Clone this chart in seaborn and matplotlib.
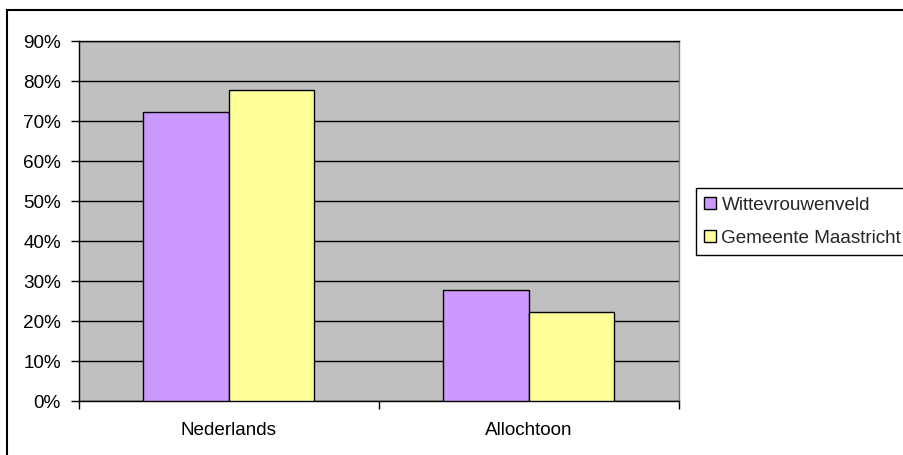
import matplotlib
matplotlib.use("Agg")
import matplotlib.pyplot as plt
from matplotlib.patches import Rectangle, Patch
from matplotlib.ticker import FixedLocator, PercentFormatter
import seaborn as sns
import pandas as pd

categories = ["Nederlands", "Allochtoon"]
series = ["Wittevrouwenveld", "Gemeente Maastricht"]
wittevrouwenveld = [72.3, 27.7]
maastricht = [77.7, 22.3]
colors = ["#CC99FF", "#FFFF99"]

df = pd.DataFrame({
    "categorie": categories * 2,
    "reeks": [series[0]] * 2 + [series[1]] * 2,
    "waarde": wittevrouwenveld + maastricht,
})

sns.set_theme(style="white")
plt.rcParams["font.family"] = ["Liberation Sans", "DejaVu Sans"]
FS = 13.6

fig = plt.figure(figsize=(9.04, 4.55), dpi=100)
ax = fig.add_axes([79 / 904, 1 - 401 / 455, 600 / 904, 360 / 455])

sns.barplot(data=df, x="categorie", y="waarde", hue="reeks",
            palette=colors, width=0.57, edgecolor="black", linewidth=1,
            saturation=1, ax=ax, legend=False, zorder=3)

ax.set_facecolor("#C0C0C0")
ax.set_xlim(-0.5, 1.5)
ax.set_ylim(0, 90)
ax.set_yticks(range(0, 91, 10))
ax.yaxis.set_major_formatter(PercentFormatter(decimals=0))
ax.yaxis.grid(True, color="black", linewidth=1)
ax.set_axisbelow(True)
ax.set_xlabel("")
ax.set_ylabel("")

ax.tick_params(axis="y", which="major", direction="out", length=6, width=1,
               color="black", left=True, labelsize=FS, pad=7, labelcolor="black")
ax.tick_params(axis="x", which="major", length=0, labelsize=FS, pad=15,
               labelcolor="black")
ax.xaxis.set_minor_locator(FixedLocator([-0.5, 0.5, 1.5]))
ax.tick_params(axis="x", which="minor", direction="out", length=6, width=1,
               color="black", bottom=True)

for side in ["left", "bottom", "top"]:
    ax.spines[side].set_color("black")
    ax.spines[side].set_linewidth(1)
ax.spines["right"].set_color("#808080")
ax.spines["right"].set_linewidth(1)

handles = [Patch(facecolor=c, edgecolor="black", linewidth=1) for c in colors]
leg = ax.legend(handles, series, loc="upper left",
                bbox_to_anchor=((696 - 79) / 600, (401 - 188) / 360),
                fontsize=FS, frameon=True, fancybox=False, framealpha=1,
                edgecolor="black", handlelength=0.6, handleheight=0.6,
                handletextpad=0.3, labelspacing=0.85, borderpad=0.45,
                borderaxespad=0)
leg.get_frame().set_linewidth(1)

# outer chart border
fig.patches.append(Rectangle((7 / 904, -0.1), 1.2, 1 - 10 / 455 + 0.1,
                             transform=fig.transFigure, fill=False,
                             edgecolor="black", linewidth=1.5))

fig.savefig("out.png", dpi=100)
